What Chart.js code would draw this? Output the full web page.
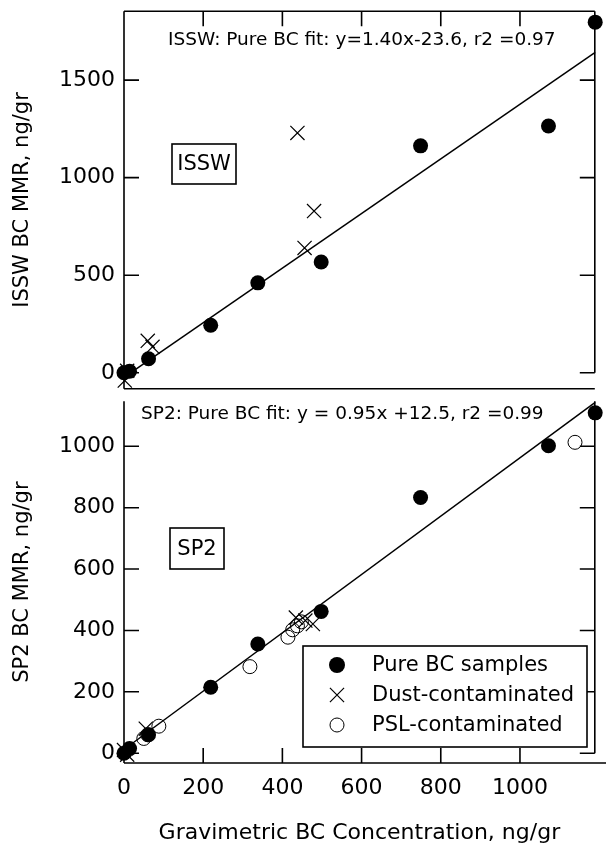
<!DOCTYPE html>
<html>
<head>
<meta charset="utf-8">
<script src="https://cdn.jsdelivr.net/npm/chart.js@4/dist/chart.umd.min.js"></script>
<style>
html,body{margin:0;padding:0;background:#fff;}
#wrap{position:relative;width:606px;height:849px;overflow:hidden;}
canvas{position:absolute;left:0;}
#c1{top:0;}
#c2{top:390px;}
</style>
</head>
<body>
<div id="wrap">
<canvas id="c1" width="606" height="400"></canvas>
<canvas id="c2" width="606" height="459"></canvas>
</div>
<script>
// ---------- data ----------
const xTicks = [0, 200, 400, 600, 800, 1000];
const xTickLabels = ['0', '200', '400', '600', '800', '1000'];
const isswTicks = [0, 500, 1000, 1500];
const isswTickLabels = ['0', '500', '1000', '1500'];
const sp2Ticks = [0, 200, 400, 600, 800, 1000];
const sp2TickLabels = ['0', '200', '400', '600', '800', '1000'];

const pureX     = [0, 14, 62, 219, 338, 498, 749, 1072, 1190];
const isswPureY = [0, 8, 72, 244, 461, 568, 1163, 1265, 1797];
const sp2PureY  = [0, 15, 60, 215, 356, 462, 833, 1002, 1109];

const isswDustX = [2, 8, 60, 72, 438, 456, 480];
const isswDustY = [-40, 10, 164, 133, 1229, 640, 829];

const sp2DustX = [0, 8, 55, 434, 458, 477];
const sp2DustY = [10, -5, 80, 442, 432, 421];

const sp2PslX = [50, 60, 88, 318, 414, 426, 438, 448, 1139];
const sp2PslY = [48, 60, 88, 282, 378, 402, 415, 428, 1013];

const fitX     = [0, 1190];
const isswFitY = [-24, 1642];
const sp2FitY  = [12, 1143];

const seriesNames = ['Pure BC samples', 'Dust-contaminated', 'PSL-contaminated'];
const isswFitText = 'ISSW: Pure BC fit: y=1.40x-23.6, r2 =0.97';
const sp2FitText  = 'SP2: Pure BC fit: y = 0.95x +12.5, r2 =0.99';
const xTitle = 'Gravimetric BC Concentration, ng/gr';
const isswYTitle = 'ISSW BC MMR, ng/gr';
const sp2YTitle = 'SP2 BC MMR, ng/gr';

// ---------- helpers ----------
const FONT = 'DejaVu Sans';
Chart.defaults.font.family = FONT;
Chart.defaults.color = '#000';
const zip = (xs, ys) => xs.map((x, i) => ({x: x, y: ys[i]}));
const TL = 15;
const LW = 1.6;

function pureSet(ys) {
  return {label: seriesNames[0], data: zip(pureX, ys), pointStyle: 'circle', pointRadius: 7.5,
    backgroundColor: '#000', borderColor: '#000', borderWidth: 0, showLine: false, clip: false};
}
function dustSet(xs, ys) {
  return {label: seriesNames[1], data: zip(xs, ys), pointStyle: 'crossRot', pointRadius: 10,
    backgroundColor: '#000', borderColor: '#000', borderWidth: 1.2, showLine: false, clip: false};
}
function pslSet(xs, ys) {
  return {label: seriesNames[2], data: zip(xs, ys), pointStyle: 'circle', pointRadius: 7,
    backgroundColor: 'rgba(255,255,255,0)', borderColor: '#000', borderWidth: 1, showLine: false, clip: false};
}
function fitSet(ys) {
  return {label: 'fit', data: zip(fitX, ys), showLine: true, pointRadius: 0, borderColor: '#000',
    borderWidth: 1.5, fill: false, clip: false};
}

function framePlugin(cfg) {
  return {
    id: 'frame_' + cfg.name,
    beforeDatasetsDraw(chart) {
      const ctx = chart.ctx, a = chart.chartArea, x = chart.scales.x, y = chart.scales.y;
      ctx.save();
      ctx.strokeStyle = '#000';
      ctx.lineWidth = LW;
      ctx.beginPath();
      ctx.moveTo(a.left, a.top); ctx.lineTo(a.left, a.bottom);
      ctx.moveTo(a.left, a.bottom); ctx.lineTo(cfg.bottomEnd || a.right, a.bottom);
      if (cfg.top) { ctx.moveTo(a.left, a.top); ctx.lineTo(a.right, a.top); }
      const y0 = y.getPixelForValue(0);
      ctx.moveTo(a.right, a.top); ctx.lineTo(a.right, y0);
      cfg.yTicks.forEach(v => {
        const py = y.getPixelForValue(v);
        ctx.moveTo(a.left, py); ctx.lineTo(a.left + TL, py);
        ctx.moveTo(a.right, py); ctx.lineTo(a.right - TL, py);
      });
      xTicks.forEach(v => {
        if (v === 0) return;
        const px = x.getPixelForValue(v);
        if (cfg.top) { ctx.moveTo(px, a.top); ctx.lineTo(px, a.top + TL); }
        if (cfg.bottomTicks) { ctx.moveTo(px, a.bottom); ctx.lineTo(px, a.bottom - TL); }
      });
      ctx.stroke();
      ctx.restore();
    }
  };
}

function notePlugin(cfg) {
  return {
    id: 'note_' + cfg.name,
    afterDatasetsDraw(chart) {
      const ctx = chart.ctx;
      ctx.save();
      ctx.fillStyle = '#000';
      ctx.strokeStyle = '#000';
      ctx.font = '18.5px "' + FONT + '"';
      ctx.textAlign = 'left';
      ctx.textBaseline = 'middle';
      ctx.fillText(cfg.fitText, cfg.fitX, cfg.fitY);
      ctx.lineWidth = LW;
      ctx.strokeRect(cfg.box[0], cfg.box[1], cfg.box[2], cfg.box[3]);
      ctx.font = '21px "' + FONT + '"';
      ctx.textAlign = 'center';
      ctx.fillText(cfg.boxText, cfg.box[0] + cfg.box[2] / 2, cfg.box[1] + cfg.box[3] / 2 + 1);
      if (cfg.legend) {
        const L = cfg.legend;
        ctx.fillStyle = '#fff';
        ctx.fillRect(L.x, L.y, L.w, L.h);
        ctx.fillStyle = '#000';
        ctx.strokeRect(L.x, L.y, L.w, L.h);
        ctx.font = '21px "' + FONT + '"';
        ctx.textAlign = 'left';
        const ds = chart.data.datasets;
        for (let i = 0; i < 3; i++) {
          const cy = L.y + L.row0 + i * L.dy;
          const cx = L.symX;
          const d = ds[i];
          ctx.beginPath();
          if (d.pointStyle === 'crossRot') {
            const o = d.pointRadius * Math.SQRT1_2;
            ctx.lineWidth = d.borderWidth;
            ctx.moveTo(cx - o, cy - o); ctx.lineTo(cx + o, cy + o);
            ctx.moveTo(cx - o, cy + o); ctx.lineTo(cx + o, cy - o);
            ctx.stroke();
          } else if (d.borderWidth === 0) {
            ctx.arc(cx, cy, d.pointRadius + 0.5, 0, Math.PI * 2);
            ctx.fill();
          } else {
            ctx.lineWidth = d.borderWidth;
            ctx.arc(cx, cy, d.pointRadius, 0, Math.PI * 2);
            ctx.stroke();
          }
          ctx.fillText(d.label, L.textX, cy + 1);
        }
      }
      ctx.restore();
    }
  };
}

function yScale(min, max, ticks, labels, title) {
  return {
    type: 'linear', position: 'left', min: min, max: max,
    afterBuildTicks(s) { s.ticks = ticks.map(v => ({value: v})); },
    afterFit(s) { s.width = 124; s.paddingTop = 0; s.paddingBottom = 0; },
    ticks: {font: {size: 22}, color: '#000', padding: 9, autoSkip: false,
      callback: (v, i) => labels[i]},
    grid: {display: false, drawTicks: false},
    border: {display: false},
    title: {display: true, text: title, font: {size: 21}, color: '#000', padding: {top: 10}}
  };
}

const common = {
  responsive: false, animation: false, devicePixelRatio: 1, events: [],
  plugins: {legend: {display: false}, tooltip: {enabled: false}}
};

// ---------- top panel (ISSW) ----------
new Chart(document.getElementById('c1'), {
  type: 'scatter',
  data: {datasets: [pureSet(isswPureY), dustSet(isswDustX, isswDustY), fitSet(isswFitY)]},
  options: Object.assign({}, common, {
    layout: {padding: {top: 11, right: 4, left: 0, bottom: 11}},
    scales: {
      x: {type: 'linear', min: 0, max: 1189, display: false},
      y: yScale(-82, 1853, isswTicks, isswTickLabels, isswYTitle)
    }
  }),
  plugins: [framePlugin({name: 'issw', top: true, bottomTicks: false, yTicks: isswTicks}),
            notePlugin({name: 'issw', fitText: isswFitText, fitX: 168, fitY: 40,
              box: [172, 144, 64, 40], boxText: 'ISSW'})]
});

// ---------- bottom panel (SP2) ----------
new Chart(document.getElementById('c2'), {
  type: 'scatter',
  data: {datasets: [pureSet(sp2PureY), dustSet(sp2DustX, sp2DustY), pslSet(sp2PslX, sp2PslY), fitSet(sp2FitY)]},
  options: Object.assign({}, common, {
    layout: {padding: {top: 5, right: 4, left: 0, bottom: 0}},
    scales: {
      x: {type: 'linear', position: 'bottom', min: 0, max: 1189,
        afterBuildTicks(s) { s.ticks = xTicks.map(v => ({value: v})); },
        afterFit(s) { s.height = 86; s.paddingLeft = 0; s.paddingRight = 0; },
        ticks: {font: {size: 22}, color: '#000', padding: 12, autoSkip: false, maxRotation: 0,
          callback: (v, i) => xTickLabels[i]},
        grid: {display: false, drawTicks: false},
        border: {display: false},
        title: {display: true, text: xTitle, font: {size: 22}, color: '#000', padding: {bottom: 3}}
      },
      y: yScale(-32, 1147, sp2Ticks, sp2TickLabels, sp2YTitle)
    }
  }),
  plugins: [framePlugin({name: 'sp2', top: false, bottomTicks: true, bottomEnd: 606, yTicks: sp2Ticks}),
            notePlugin({name: 'sp2', fitText: sp2FitText, fitX: 141, fitY: 24,
              box: [170, 138, 54, 41], boxText: 'SP2',
              legend: {x: 303, y: 256, w: 284, h: 101, row0: 19, dy: 30, symX: 337, textX: 372}})]
});
</script>
</body>
</html>
